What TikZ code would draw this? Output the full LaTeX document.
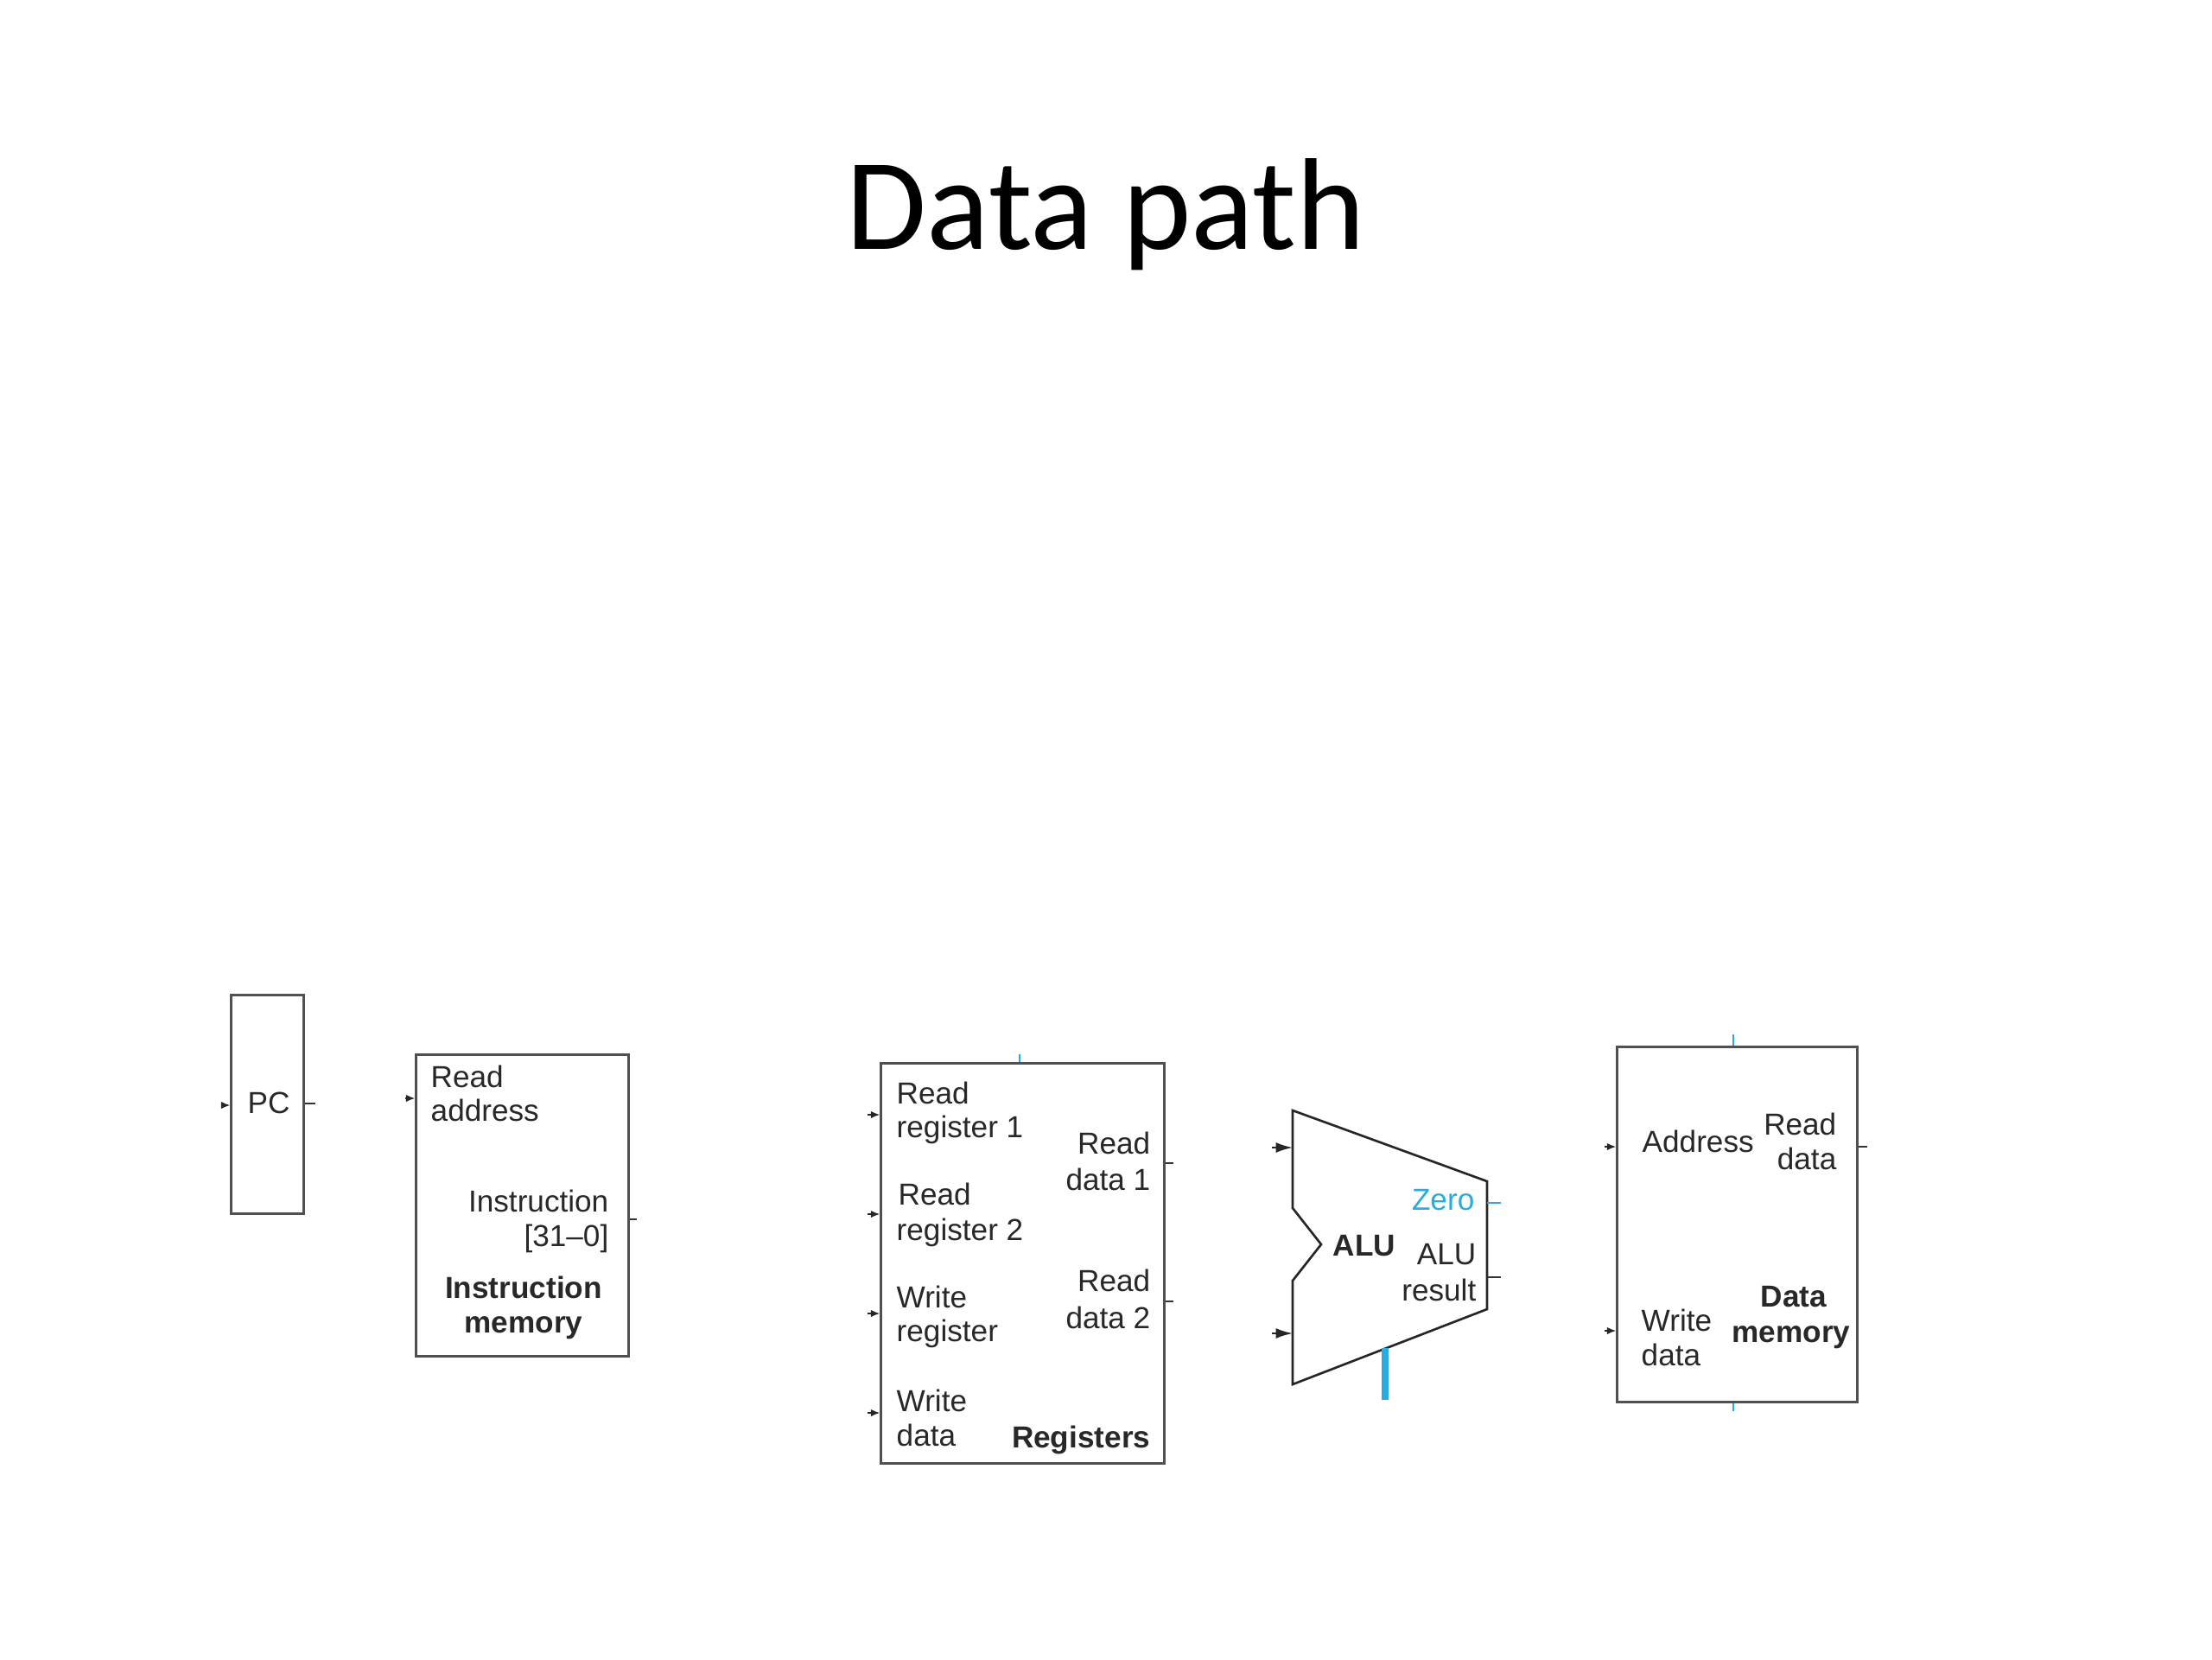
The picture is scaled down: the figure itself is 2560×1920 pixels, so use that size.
\documentclass[tikz,border=0pt]{standalone}
\usepackage{fontspec}
\setmainfont{Liberation Sans}
\newfontfamily\titlef{Carlito}
\usetikzlibrary{arrows.meta}
\newcommand\lblf{\fontsize{10}{12}\selectfont}
\definecolor{ctrlblue}{RGB}{41,171,226}
\definecolor{boxgray}{RGB}{80,80,80}
\definecolor{txtcol}{RGB}{40,40,40}
\begin{document}
\begin{tikzpicture}[x=0.01cm,y=-0.01cm,
  unitbox/.style={draw=boxgray,line width=0.85pt,inner sep=0,fill=white},
  t/.style={font=\lblf,inner sep=0,text=txtcol},
  tb/.style={font=\lblf\bfseries,inner sep=0,text=txtcol},
  inarrow/.style={draw=black!85,line width=0.5pt,-{Latex[length=3pt,width=2.4pt]}},
  aluarrow/.style={draw=black!85,line width=0.6pt,-{Latex[length=5.5pt,width=3.4pt]}},
  stub/.style={draw=black!80,line width=0.6pt},
  bluestub/.style={draw=ctrlblue,line width=0.8pt},
  ctrl/.style={draw=ctrlblue,line width=2.3pt}]
\useasboundingbox (0,0) rectangle (2560,1920);

% title
\node[font=\titlef\fontsize{43}{50}\selectfont,inner sep=0,anchor=base] (title) at (1280,288) {Data path};

% PC
\node[unitbox,minimum width=0.83cm,minimum height=2.52cm] (pc) at (309.5,1278) {};
\node[t,anchor=base] (pclbl) at (311,1288) {PC};
\coordinate (pcin) at (256,1279);
\coordinate (pcout) at (365,1277);
\draw[inarrow] (pcin) -- (pc.west |- pcin);
\draw[stub] (pc.east |- pcout) -- (pcout);

% Instruction memory
\node[unitbox,minimum width=2.45cm,minimum height=3.48cm] (imem) at (604.5,1395) {};
\node[t,anchor=base west] (im1) at (498,1258) {Read};
\node[t,anchor=base west] (im2) at (498,1297) {address};
\node[t,anchor=base east] (im3) at (705,1402) {Instruction};
\node[t,anchor=base east] (im4) at (705,1442) {[31--0]};
\node[tb,anchor=base] (im5) at (606,1502) {Instruction};
\node[tb,anchor=base] (im6) at (606,1542) {memory};
\coordinate (imin) at (469,1271);
\coordinate (imout) at (737,1411);
\draw[inarrow] (imin) -- (imem.west |- imin);
\draw[stub] (imem.east |- imout) -- (imout);

% Registers
\node[unitbox,minimum width=3.27cm,minimum height=4.62cm] (regs) at (1183.5,1462) {};
\node[t,anchor=base west] (r1a) at (1037,1277) {Read};
\node[t,anchor=base west] (r1b) at (1037,1316) {register 1};
\node[t,anchor=base west] (r2a) at (1039,1394) {Read};
\node[t,anchor=base west] (r2b) at (1037,1435) {register 2};
\node[t,anchor=base west] (r3a) at (1037,1513) {Write};
\node[t,anchor=base west] (r3b) at (1037,1552) {register};
\node[t,anchor=base west] (r4a) at (1037,1633) {Write};
\node[t,anchor=base west] (r4b) at (1037,1673) {data};
\node[t,anchor=base east] (rd1a) at (1332,1335) {Read};
\node[t,anchor=base east] (rd1b) at (1332,1377) {data 1};
\node[t,anchor=base east] (rd2a) at (1332,1494) {Read};
\node[t,anchor=base east] (rd2b) at (1332,1537) {data 2};
\node[tb,anchor=base east] (rlbl) at (1332,1675) {Registers};
\coordinate (rin1) at (1004,1290);
\coordinate (rin2) at (1004,1405);
\coordinate (rin3) at (1004,1520);
\coordinate (rin4) at (1004,1635);
\foreach \c in {rin1,rin2,rin3,rin4} \draw[inarrow] (\c) -- (regs.west |- \c);
\coordinate (rout1) at (1358,1346);
\coordinate (rout2) at (1358,1506);
\draw[stub,line width=0.4pt] (regs.east |- rout1) -- (rout1);
\draw[stub,line width=0.4pt] (regs.east |- rout2) -- (rout2);
\coordinate (rwrite) at (1180,1220);
\draw[bluestub] (rwrite) -- (regs.north -| rwrite);

% ALU
\coordinate (alutl) at (1496,1285);
\coordinate (alutr) at (1721,1367);
\coordinate (alubr) at (1721,1515);
\coordinate (alubl) at (1496,1602);
\coordinate (alun1) at (1496,1398);
\coordinate (alun2) at (1529,1440);
\coordinate (alun3) at (1496,1482);
\draw[draw=black!85,line width=0.75pt,line join=miter,fill=white] (alutl) -- (alutr) -- (alubr) -- (alubl) -- (alun3) -- (alun2) -- (alun1) -- cycle;
\node[tb,anchor=base west] (alulbl) at (1542,1453) {ALU};
\node[t,anchor=base east,text=ctrlblue] (zero) at (1707,1400) {Zero};
\node[t,anchor=base east] (alur1) at (1709,1463) {ALU};
\node[t,anchor=base east] (alur2) at (1709,1505) {result};
\coordinate (ain1) at (1472,1328);
\coordinate (ain2) at (1472,1543);
\draw[aluarrow] (ain1) -- (alutl |- ain1);
\draw[aluarrow] (ain2) -- (alutl |- ain2);
\coordinate (zeroa) at (1721,1392);
\coordinate (zerob) at (1737,1392);
\draw[bluestub] (zeroa) -- (zerob);
\coordinate (resa) at (1721,1478);
\coordinate (resb) at (1737,1478);
\draw[stub] (resa) -- (resb);
\coordinate (aluop) at (1603,1620);
\coordinate (aluopend) at (1603,1560);
\draw[ctrl] (aluop) -- (aluopend);

% Data memory
\node[unitbox,minimum width=2.77cm,minimum height=4.10cm] (dmem) at (2010.5,1417) {};
\node[t,anchor=base west] (dm1) at (1900,1333) {Address};
\node[t,anchor=base east] (dm2) at (2126,1313) {Read};
\node[t,anchor=base east] (dm3) at (2126,1353) {data};
\node[t,anchor=base west] (dm4) at (1899,1540) {Write};
\node[t,anchor=base west] (dm5) at (1899,1580) {data};
\node[tb,anchor=base] (dm6) at (2076,1512) {Data};
\node[tb,anchor=base] (dm7) at (2073,1553) {memory};
\coordinate (dmin1) at (1857,1327);
\coordinate (dmin2) at (1857,1540);
\draw[inarrow] (dmin1) -- (dmem.west |- dmin1);
\draw[inarrow] (dmin2) -- (dmem.west |- dmin2);
\coordinate (dmout) at (2161,1327);
\draw[stub] (dmem.east |- dmout) -- (dmout);
\coordinate (memwr) at (2006,1197);
\coordinate (memrd) at (2006,1633);
\draw[bluestub] (memwr) -- (dmem.north -| memwr);
\draw[bluestub] (dmem.south -| memrd) -- (memrd);
\end{tikzpicture}
\end{document}
